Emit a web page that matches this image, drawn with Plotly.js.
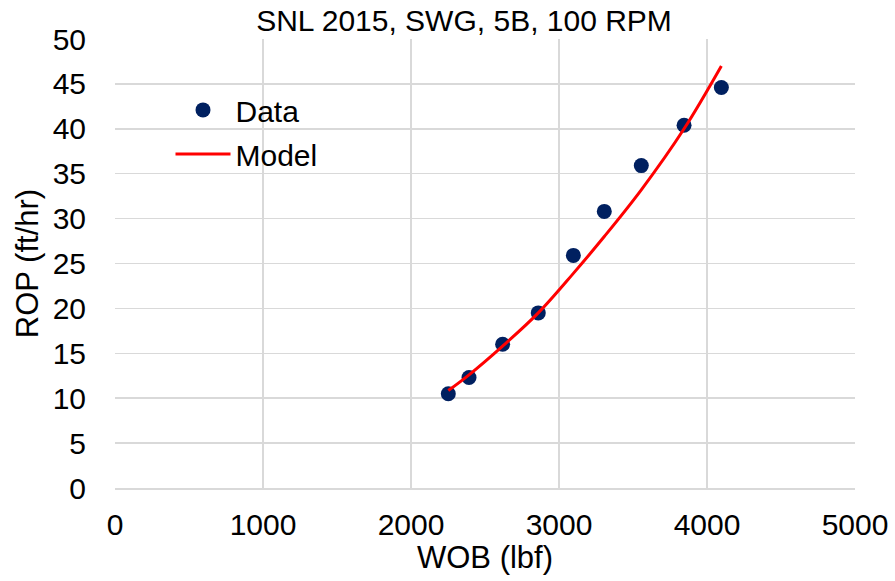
<!DOCTYPE html>
<html><head><meta charset="utf-8">
<script src="https://cdn.plot.ly/plotly-3.0.1.min.js"></script>
<style>body{margin:0;background:#fff}#c{width:895px;height:581px}</style>
</head><body><div id="c"></div>
<script>
const dataWOB = [2252, 2392, 2619, 2860, 3097, 3306, 3556, 3845, 4097];
const dataROP = [10.5, 12.3, 16.0, 19.5, 25.9, 30.8, 35.9, 40.4, 44.6];
const modelWOB = [2252, 2392, 2619, 2860, 3097, 3306, 3556, 3845, 4097];
const modelROP = [10.85, 12.6, 15.8, 19.5, 23.9, 28.0, 33.2, 40.0, 47.0];
const titleText = "SNL 2015, SWG, 5B, 100 RPM";

const F = "Liberation Sans, Arial, sans-serif";
const traces = [
  {x: dataWOB, y: dataROP, mode: "markers", name: "Data", type: "scatter", legendgroup: "a",
   marker: {color: "#002060", size: 15}},
  {x: modelWOB, y: modelROP, mode: "lines", name: "Model", type: "scatter", legendgroup: "b",
   line: {color: "#ff0000", width: 3, shape: "spline"}}
];
const layout = {
  width: 895, height: 581,
  margin: {l: 115, r: 40, t: 39, b: 93},
  paper_bgcolor: "#fff", plot_bgcolor: "#fff",
  font: {family: F, size: 30, color: "#000"},
  title: {text: titleText, font: {family: F, size: 30, color: "#000"},
          x: 464/895, xref: "container", xanchor: "center", y: 1 - 20/581, yanchor: "middle"},
  xaxis: {range: [0, 5000], dtick: 1000, showgrid: true, gridcolor: "#d9d9d9", gridwidth: 1.5,
          zeroline: false, showline: true, linecolor: "#d9d9d9", linewidth: 1.5, mirror: false,
          ticks: "outside", ticklen: 9, tickcolor: "rgba(0,0,0,0)",
          tickfont: {family: F, size: 30, color: "#000"},
          title: {text: "WOB (lbf)", font: {family: F, size: 31, color: "#000"}, standoff: 0}},
  yaxis: {range: [0, 50], dtick: 5, showgrid: true, gridcolor: "#d9d9d9", gridwidth: 1.5,
          zeroline: false, showline: false,
          ticks: "outside", ticklen: 22, tickcolor: "rgba(0,0,0,0)",
          tickfont: {family: F, size: 30, color: "#000"},
          title: {text: "ROP (ft/hr)", font: {family: F, size: 31, color: "#000"}, standoff: 4}},
  showlegend: true,
  legend: {x: 0.075, y: 0.90, xanchor: "left", yanchor: "top", bgcolor: "rgba(0,0,0,0)",
           font: {family: F, size: 30, color: "#000"}, itemwidth: 55, tracegroupgap: 2,
           traceorder: "grouped"}
};
Plotly.newPlot("c", traces, layout, {staticPlot: true, displayModeBar: false});
</script></body></html>
